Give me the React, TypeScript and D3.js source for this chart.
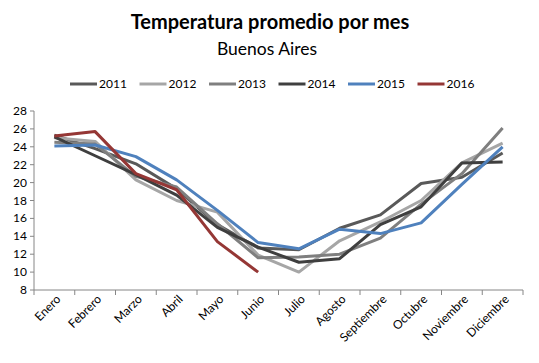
import React from 'react'
import * as d3 from 'd3'

const months = ['Enero', 'Febrero', 'Marzo', 'Abril', 'Mayo', 'Junio', 'Julio', 'Agosto', 'Septiembre', 'Octubre', 'Noviembre', 'Diciembre']
const years = ['2011', '2012', '2013', '2014', '2015', '2016']
const t2011 = [25.3, 23.8, 22.1, 19.3, 15.3, 12.7, 12.5, 14.9, 16.4, 19.9, 20.6, 23.3]
const t2012 = [25.0, 24.6, 20.3, 18.0, 16.7, 11.9, 10.0, 13.5, 15.6, 18.0, 22.2, 24.4]
const t2013 = [24.5, 24.3, 20.7, 19.5, 15.4, 11.6, 11.7, 12.0, 13.8, 17.6, 21.0, 26.1]
const t2014 = [25.1, 23.0, 20.9, 18.6, 15.0, 12.8, 11.1, 11.5, 15.3, 17.3, 22.2, 22.3]
const t2015 = [24.1, 24.2, 22.9, 20.3, 16.9, 13.3, 12.6, 14.8, 14.3, 15.5, 19.8, 24.0]
const t2016 = [25.2, 25.7, 21.0, 19.2, 13.4, 10.0]
const yTicks = [8, 10, 12, 14, 16, 18, 20, 22, 24, 26, 28]
const colors = ['#595959', '#a6a6a6', '#7f7f7f', '#3f3f3f', '#4f81bd', '#953735']

const W = 539
const H = 363
const font = 'Lato, "Open Sans", sans-serif'

const App = () => {
    const series = [t2011, t2012, t2013, t2014, t2015, t2016]

    // plot area
    const left = 34
    const right = 523
    const top = 111
    const bottom = 290

    const x = d3.scaleBand().domain(months).range([left, right])
    const y = d3.scaleLinear().domain([8, 28]).range([bottom, top])

    const line = d3
        .line<number>()
        .x((_, i) => (x(months[i]) || 0) + x.bandwidth() / 2)
        .y((d) => y(d))

    // boundaries between categories for the tick marks
    const xTicks = d3.range(months.length + 1).map((i) => left + i * x.bandwidth())

    return (
        <svg width={W} height={H} style={{ position: 'absolute', left: 0, top: 0, background: '#fff' }}>
            <text x={270} y={29} textAnchor='middle' fontFamily={font} fontWeight='bold' fontSize={20} fill='#000'>
                Temperatura promedio por mes
            </text>
            <text x={267} y={55} textAnchor='middle' fontFamily={font} fontSize={17.5} fill='#000'>
                Buenos Aires
            </text>

            {/* legend */}
            {years.map((yr, i) => {
                const lx = 70 + i * 69.5
                return (
                    <g key={yr}>
                        <line x1={lx} x2={lx + 27} y1={84} y2={84} stroke={colors[i]} strokeWidth={3} />
                        <text x={lx + 29} y={88} fontFamily={font} fontSize={12} fill='#000'>
                            {yr}
                        </text>
                    </g>
                )
            })}

            {/* axes */}
            <line x1={left} x2={left} y1={top} y2={bottom} stroke='#868686' />
            <line x1={left} x2={right} y1={bottom} y2={bottom} stroke='#868686' />
            {yTicks.map((t) => (
                <g key={t}>
                    <line x1={left - 4} x2={left} y1={y(t)} y2={y(t)} stroke='#868686' />
                    <text x={27} y={y(t) + 4} textAnchor='end' fontFamily={font} fontSize={12} fill='#000'>
                        {t}
                    </text>
                </g>
            ))}
            {xTicks.map((t, i) => (
                <line key={i} x1={t} x2={t} y1={bottom} y2={bottom + 5} stroke='#868686' />
            ))}
            {months.map((m) => {
                const cx = (x(m) || 0) + x.bandwidth() / 2 + 7
                const cy = bottom + 10
                return (
                    <text
                        key={m}
                        x={cx}
                        y={cy}
                        textAnchor='end'
                        transform={`rotate(-45,${cx},${cy})`}
                        fontFamily={font}
                        fontSize={12}
                        fill='#000'
                    >
                        {m}
                    </text>
                )
            })}

            {/* series */}
            {series.map((s, i) => (
                <path key={years[i]} d={line(s) || ''} fill='none' stroke={colors[i]} strokeWidth={3} strokeLinejoin='round' />
            ))}
        </svg>
    )
}

export default App
